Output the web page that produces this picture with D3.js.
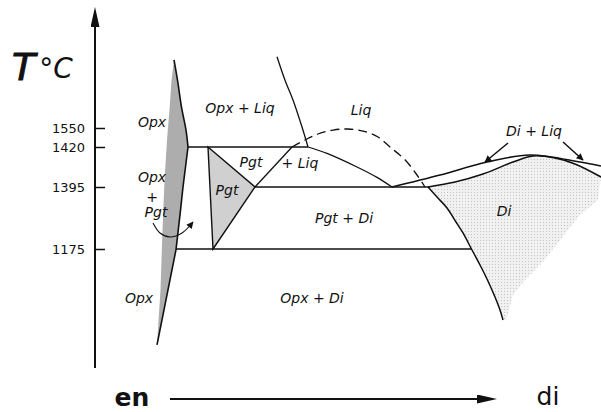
<!DOCTYPE html>
<html>
<head>
<meta charset="utf-8">
<script src="https://cdn.jsdelivr.net/npm/d3@7"></script>
<style>
  body { margin: 0; background: #fff; }
  svg { display: block; }
  text { font-family: "DejaVu Sans", sans-serif; fill: #111; }
</style>
</head>
<body>
<svg id="chart" width="601" height="412"></svg>
<script>
// composition runs en (0) -> di (100); temperature axis is schematic (not to scale)
const tickTemps = [1550, 1420, 1395, 1175];
const tempAnchors = [1000, 1175, 1395, 1420, 1550, 1700];

// boundaries as [composition, T]
const opxUpper = [[14.8, 1681], [15.5, 1642], [16.3, 1590], [17.2, 1536], [17.6, 1420]];
const opxLower = [[17.6, 1420], [16.6, 1395], [16.0, 1296], [15.2, 1174], [11.4, 1034]];
const opxShadeEdge = [[14.8, 1681], [14.3, 1642], [13.9, 1585], [13.4, 1468], [12.9, 1399], [12.5, 1242], [12.1, 1115], [11.4, 1034]];
const opxLiquidus = [[35.4, 1687], [37.0, 1642], [38.6, 1604], [40.4, 1552], [41.6, 1420]];

const iso1420 = [[17.6, 1420], [41.6, 1420]];
const iso1395 = [[31.0, 1395], [66.0, 1395]];
const iso1175 = [[15.2, 1175], [74.4, 1175]];

const pgtField = [[21.6, 1420], [31.0, 1395], [22.6, 1175]];
const pgtLiqBoundary = [[31.0, 1395], [38.4, 1420]];
const pgtLiquidus = [[41.6, 1420], [45.4, 1416], [51.4, 1407.5], [55.4, 1401], [58.4, 1395]];
const metastable = [[38.4, 1420], [41.0, 1468], [43.6, 1509], [46.6, 1536], [49.6, 1543], [52.6, 1529], [55.6, 1488], [58.0, 1420], [61.0, 1412], [63.4, 1402.5], [65.0, 1395]];

const diLiquidus = [[58.4, 1395], [68.0, 1402.5], [77.4, 1410.6], [86.0, 1415], [96.0, 1410.6], [100.2, 1408.1]];
const diSolidus = [[65.6, 1395], [71.0, 1398.1], [76.6, 1403.1], [82.6, 1410.6], [86.6, 1414.4], [91.0, 1413.1], [95.0, 1409.4], [100.2, 1401.25]];
const diSolvus = [[65.6, 1395], [67.4, 1359.5], [69.4, 1320.5], [71.2, 1270.8], [72.6, 1231.8], [74.4, 1173.5], [76.0, 1151.5], [77.4, 1130.9], [79.0, 1104.4], [80.0, 1085.3], [80.6, 1070.6]];
const diShadeEdge = [[100.2, 1401.25], [99.6, 1348.9], [96.0, 1295.7], [92.0, 1207], [88.6, 1155.9], [85.0, 1129.4], [82.6, 1107.4], [81.2, 1070.6]];

const diLiqArrows = [[[81.6, 1447.4], [77.0, 1410.6]], [[92.6, 1454.2], [96.6, 1411.9]]];
const pgtArrow = [[10.6, 1267.3], [12.0, 1231.8], [14.0, 1217.6], [16.4, 1231.8], [18.6, 1270.8]];

const labels = [
  ["Opx + Liq", 28.0, 1588.5],
  ["Opx", 10.4, 1561.5],
  ["Opx", 10.4, 1401.25],
  ["+", 10.4, 1359.5],
  ["Pgt", 11.2, 1306.3],
  ["Pgt", 25.4, 1384.4],
  ["Pgt", 30.2, 1410.6],
  ["+ Liq", 40.0, 1410],
  ["Liq", 52.2, 1584.6],
  ["Di + Liq", 86.8, 1529.5],
  ["Di", 80.8, 1309.8],
  ["Pgt + Di", 48.8, 1285],
  ["Opx + Di", 42.4, 1103],
  ["Opx", 7.8, 1103]
];

const svg = d3.select("#chart");

const x = d3.scaleLinear().domain([0, 100]).range([100, 600]);
const y = d3.scaleLinear().domain(tempAnchors).range([368, 249, 187, 147, 128, 50]);

const defs = svg.append("defs");
defs.append("marker")
    .attr("id", "head")
    .attr("viewBox", "0 0 10 10")
    .attr("refX", 9).attr("refY", 5)
    .attr("markerWidth", 10).attr("markerHeight", 7)
    .attr("markerUnits", "userSpaceOnUse")
    .attr("orient", "auto")
  .append("path").attr("d", "M0,0 L10,5 L0,10 Z").attr("fill", "#111");
defs.append("marker")
    .attr("id", "bighead")
    .attr("viewBox", "0 0 20 9")
    .attr("refX", 0).attr("refY", 4.5)
    .attr("markerWidth", 20).attr("markerHeight", 9)
    .attr("markerUnits", "userSpaceOnUse")
    .attr("orient", "auto")
  .append("path").attr("d", "M0,0 L20,4.5 L0,9 Z").attr("fill", "#111");

// stipple for the diopside field
let dots = defs.append("pattern")
    .attr("id", "stipple")
    .attr("width", 3).attr("height", 3)
    .attr("patternUnits", "userSpaceOnUse");
dots.append("rect").attr("width", 3).attr("height", 3).attr("fill", "#f1f1f1");
dots.append("rect").attr("width", 1).attr("height", 1).attr("fill", "#c4c4c4");

let curve = d3.line().x(d => x(d[0])).y(d => y(d[1])).curve(d3.curveCatmullRom.alpha(0.5));
let straight = d3.line().x(d => x(d[0])).y(d => y(d[1]));

// shaded single-phase fields
let opxPoly = opxUpper.concat(opxLower.slice(1), opxShadeEdge.slice().reverse());
svg.append("path").attr("d", straight(opxPoly) + "Z").attr("fill", "#adadad");
svg.append("path").attr("d", straight(pgtField) + "Z").attr("fill", "#d0d0d0");
let diPoly = diSolidus.concat(diShadeEdge.slice(1), diSolvus.slice().reverse());
svg.append("path").attr("d", straight(diPoly) + "Z").attr("fill", "url(#stipple)");

// y axis
svg.append("line")
    .attr("x1", 95).attr("x2", 95)
    .attr("y1", y(1000)).attr("y2", 27)
    .attr("stroke", "#111").attr("stroke-width", 2)
    .attr("marker-end", "url(#bighead)");

let yAxis = d3.axisLeft(y).tickValues(tickTemps).tickFormat(d3.format("d"))
    .tickSizeInner(-10).tickSizeOuter(0).tickPadding(10);
let gy = svg.append("g").attr("transform", "translate(95,0)").call(yAxis);
gy.select(".domain").remove();
gy.selectAll(".tick line").attr("stroke", "#111").attr("stroke-width", 1.5);
gy.selectAll(".tick text")
    .attr("font-family", "DejaVu Sans")
    .attr("font-size", 13)
    .attr("fill", "#111");

// boundary lines
const lines = svg.append("g").attr("fill", "none").attr("stroke", "#111");
lines.append("path").attr("d", curve(opxUpper)).attr("stroke-width", 1.6);
lines.append("path").attr("d", straight(opxLower)).attr("stroke-width", 1.6);
lines.append("path").attr("d", curve(opxLiquidus)).attr("stroke-width", 1.3);
lines.append("path").attr("d", straight(iso1420)).attr("stroke-width", 1.3);
lines.append("path").attr("d", straight(iso1395)).attr("stroke-width", 1.3);
lines.append("path").attr("d", straight(iso1175)).attr("stroke-width", 1.6);
lines.append("path").attr("d", straight(pgtField) + "Z").attr("stroke-width", 1.4);
lines.append("path").attr("d", straight(pgtLiqBoundary)).attr("stroke-width", 1.3);
lines.append("path").attr("d", curve(pgtLiquidus)).attr("stroke-width", 1.3);
lines.append("path").attr("d", curve(metastable)).attr("stroke-width", 1.3).attr("stroke-dasharray", "9,5");
lines.append("path").attr("d", curve(diLiquidus)).attr("stroke-width", 1.6);
lines.append("path").attr("d", curve(diSolidus)).attr("stroke-width", 1.6);
lines.append("path").attr("d", curve(diSolvus)).attr("stroke-width", 1.5);

diLiqArrows.forEach(a => {
  lines.append("path").attr("d", straight(a)).attr("stroke-width", 1.5).attr("marker-end", "url(#head)");
});
lines.append("path").attr("d", curve(pgtArrow)).attr("stroke-width", 1.1).attr("marker-end", "url(#head)");

// phase labels
svg.append("g").selectAll("text")
  .data(labels)
  .join("text")
    .attr("x", d => x(d[1]))
    .attr("y", d => y(d[2]))
    .attr("dy", "0.35em")
    .attr("text-anchor", "middle")
    .attr("font-style", "italic")
    .attr("font-size", 14)
    .text(d => d[0]);

// T axis title
let title = svg.append("text").attr("x", 12).attr("y", 80).attr("font-family", "Liberation Sans");
title.append("tspan").attr("font-style", "italic").attr("font-size", 38).attr("stroke", "#111").attr("stroke-width", 1).text("T");
title.append("tspan").attr("dx", 4).attr("dy", -2).attr("font-style", "italic").attr("font-size", 28).text("°C");

// composition arrow
svg.append("line")
    .attr("x1", x(14)).attr("x2", x(75.4))
    .attr("y1", 399).attr("y2", 399)
    .attr("stroke", "#111").attr("stroke-width", 2)
    .attr("marker-end", "url(#bighead)");
svg.append("text").attr("x", x(6.4)).attr("y", 406).attr("text-anchor", "middle")
    .attr("font-family", "Liberation Sans").attr("font-weight", "bold").attr("font-size", 25).text("en");
svg.append("text").attr("x", x(89.6)).attr("y", 405).attr("text-anchor", "middle")
    .attr("font-family", "Liberation Sans").attr("font-size", 25).text("di");
</script>
</body>
</html>
